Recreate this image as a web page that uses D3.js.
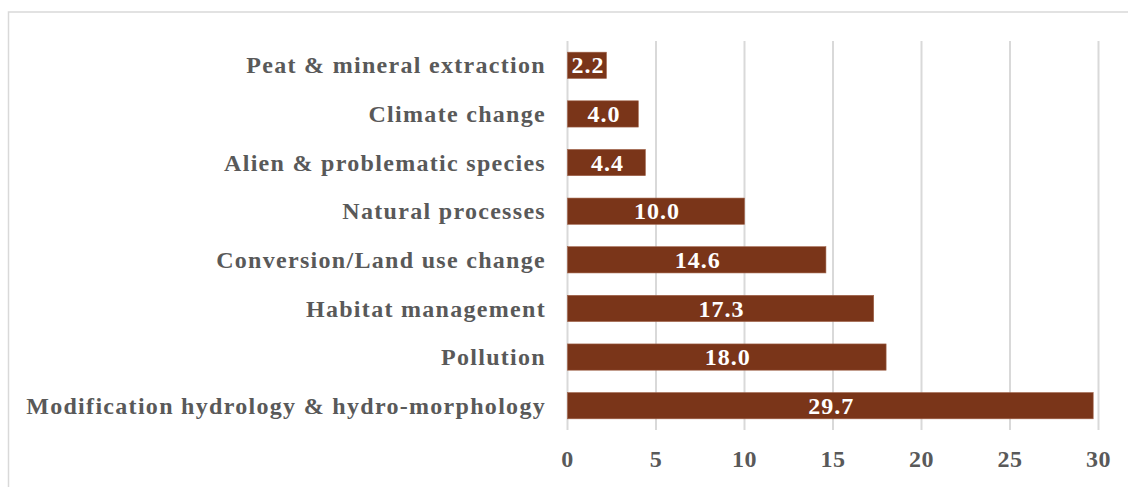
<!DOCTYPE html>
<html>
<head>
<style>
  body { margin: 0; background: #fff; }
  text { font-family: "Liberation Serif", "Times New Roman", serif; font-weight: bold; }
</style>
</head>
<body>
<script src="https://d3js.org/d3.v7.min.js"></script>
<script>

  var categories = [
    "Peat & mineral extraction",
    "Climate change",
    "Alien & problematic species",
    "Natural processes",
    "Conversion/Land use change",
    "Habitat management",
    "Pollution",
    "Modification hydrology & hydro-morphology"
  ];
  var values = [2.2, 4.0, 4.4, 10.0, 14.6, 17.3, 18.0, 29.7];
  var ticks = [0, 5, 10, 15, 20, 25, 30];

  var width = 1128;
  var height = 487;

  var svg = d3.select("body")
      .append("svg")
      .attr("width", width)
      .attr("height", height);

  // chart frame (right and bottom edges run off the picture)
  svg.append("rect")
      .attr("x", 8.5)
      .attr("y", 12)
      .attr("width", 1140)
      .attr("height", 500)
      .attr("fill", "none")
      .attr("stroke", "#d9d9d9")
      .attr("stroke-width", 1.5);

  var x = d3.scaleLinear().domain([0, 30]).range([567.5, 1098.5]);
  var y = d3.scaleBand().domain(categories).range([41, 430]).paddingInner(0.46).paddingOuter(0.23);

  // gridlines
  svg.selectAll(".grid")
      .data(ticks)
      .enter()
        .append("line")
        .attr("x1", function (d) { return x(d); })
        .attr("x2", function (d) { return x(d); })
        .attr("y1", 41)
        .attr("y2", 430)
        .attr("stroke", "#d9d9d9")
        .attr("stroke-width", 2);

  var defs = svg.append("defs");

  var bar = svg.selectAll(".bar")
      .data(values)
      .enter()
        .append("g");

  bar.append("rect")
      .attr("x", x(0))
      .attr("y", function (d, i) { return y(categories[i]); })
      .attr("width", function (d) { return x(d) - x(0); })
      .attr("height", y.bandwidth())
      .attr("fill", "#7a3519")
      .attr("stroke", "#a0634a")
      .attr("stroke-width", 0.6);

  // clip value labels to their bar, as the narrow first bar does
  bar.each(function (d, i) {
    defs.append("clipPath")
        .attr("id", "clip" + i)
      .append("rect")
        .attr("x", x(0))
        .attr("y", y(categories[i]))
        .attr("width", x(d) - x(0))
        .attr("height", y.bandwidth());
  });

  bar.append("text")
      .attr("clip-path", function (d, i) { return "url(#clip" + i + ")"; })
      .attr("x", function (d) { return (x(0) + x(d)) / 2 + 1; })
      .attr("y", function (d, i) { return y(categories[i]) + y.bandwidth() / 2; })
      .attr("dy", "0.34em")
      .attr("text-anchor", "middle")
      .attr("fill", "#fff")
      .style("font-size", "24px")
      .style("letter-spacing", "1px")
      .text(function (d) { return d.toFixed(1); });

  // category labels
  svg.selectAll(".cat")
      .data(categories)
      .enter()
        .append("text")
        .attr("x", 546)
        .attr("y", function (d) { return y(d) + y.bandwidth() / 2; })
        .attr("dy", "0.34em")
        .attr("text-anchor", "end")
        .attr("fill", "#595959")
        .style("font-size", "24px")
        .style("letter-spacing", "1.3px")
        .text(function (d) { return d; });

  // x tick labels
  svg.selectAll(".tick")
      .data(ticks)
      .enter()
        .append("text")
        .attr("x", function (d) { return x(d); })
        .attr("y", 459)
        .attr("dy", "0.34em")
        .attr("text-anchor", "middle")
        .attr("fill", "#595959")
        .style("font-size", "24px")
        .style("letter-spacing", "0.5px")
        .text(function (d) { return d; });

</script>
</body>
</html>
